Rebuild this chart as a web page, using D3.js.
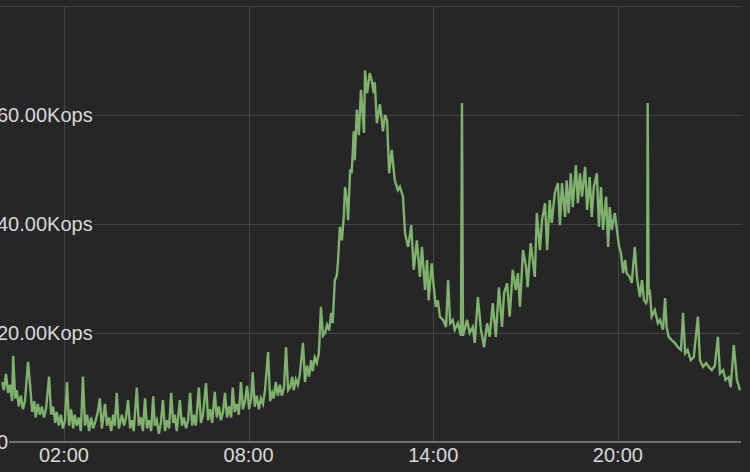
<!DOCTYPE html>
<html>
<head>
<meta charset="utf-8">
<script src="https://cdn.jsdelivr.net/npm/d3@7"></script>
<style>
  html, body { margin: 0; padding: 0; background: #262626; overflow: hidden; }
  svg { display: block; }
</style>
</head>
<body>
<svg id="chart" width="750" height="472"></svg>
<script>
// minutes since 00:00
const minutes = [
  0,3,7,11,15,19,21,25,28,32,
  36,40,44,50,54,58,62,65,69,73,
  77,81,85,91,95,99,103,106,110,114,
  118,122,126,130,134,138,141,145,149,153,
  157,161,165,169,173,177,182,186,190,194,
  200,204,208,212,216,219,223,227,233,237,
  241,245,249,253,256,262,266,270,274,278,
  282,286,290,294,297,301,305,309,313,317,
  321,325,329,333,336,340,346,350,354,358,
  362,366,370,373,377,383,387,391,397,401,
  405,409,414,418,422,426,430,434,438,442,
  446,449,453,457,461,465,469,473,477,481,
  485,488,492,496,500,504,508,512,518,522,
  526,529,533,537,541,545,549,553,557,561,
  565,568,572,576,580,586,590,594,598,602,
  605,609,613,617,621,625,629,633,637,641,
  644,648,652,654,658,662,666,668,672,674,
  678,681,685,687,691,695,699,701,705,707,
  711,714,716,720,724,726,730,736,742,746,
  750,754,759,765,771,775,781,785,791,795,
  797,802,808,814,818,824,828,831,837,841,
  845,849,853,859,865,869,873,878,882,888,
  894,896,898,906,911,917,921,927,933,939,
  945,950,956,962,968,974,978,984,989,995,
  1001,1005,1009,1015,1021,1024,1030,1034,1038,1042,
  1048,1052,1058,1062,1067,1071,1077,1083,1087,1091,
  1097,1100,1104,1108,1112,1118,1122,1126,1130,1136,
  1140,1145,1149,1153,1159,1163,1167,1171,1177,1181,
  1184,1188,1194,1198,1202,1206,1210,1214,1217,1223,
  1227,1233,1237,1243,1247,1251,1255,1257,1258,1260,
  1262,1266,1272,1278,1282,1288,1292,1295,1299,1305,
  1311,1317,1323,1327,1331,1336,1342,1348,1356,1360,
  1366,1372,1377,1383,1389,1395,1399,1405,1410,1416,
  1420,1426,1432,1438
];
// ops, in thousands (Kops)
const kops = [
  11,9.5,12.5,9,10.5,7.5,15.8,8,9.5,6.5,
  8.5,6,7.5,14.7,10.5,5.5,7.5,4.5,7,5,
  6.5,4.5,6,12,5,6.5,3.5,5.5,3,5,
  2.5,4,11,3,6,2.5,5,3,4.5,2,
  12,3,5,2,4.5,2.5,4,5.5,8,2.5,
  7,3,4.5,2,5,3,9,2.5,5,3,
  4.5,7.7,2.5,4,2,10,3,4.5,2,8,
  2.5,4,2,8.4,3,4,1.5,3.5,7.7,2,
  4,2.5,9,3.5,5,2,7.7,3,4.5,2.5,
  4,9,3,5,3,10,3.5,5,10.8,4,
  6,3.5,9.2,4.5,6.5,4,5.5,9,4.5,6.5,
  4.5,10,5.5,7,5,11,6,7.5,10.3,6,
  8,12.8,6.5,8.5,6,8,7,9.5,16.5,7.5,
  9,8,11,8.5,10.5,8.5,10,17.4,9.5,10,
  12,9.5,11.5,10.5,12.5,18.2,11,14,12,15,
  13,15.5,14.5,16.3,24.8,19.5,20,21.5,20.5,23.7,
  21.8,29.7,30.5,32.8,39.5,37,42,46.8,44,40.7,
  50,49.3,57,51.7,61,56.3,64.6,62,56.7,68.2,
  64,66,67.7,66.4,64,66,58.5,62,57,60,
  59,49.3,53.6,48,46.2,46.8,45,38.3,35.8,38.3,
  39.8,31.6,37,30.3,35.8,27.9,33.4,26,32.8,28.4,
  24.8,26,23,22.4,21.1,29.7,21.8,22.4,20.6,21.8,
  19.5,62.2,19.5,22.4,20,21.1,18.2,26.6,20.6,17.4,
  21.8,19.3,25.5,19.3,28.4,21.1,27.3,29.1,23,31.6,
  27.9,31,24.8,35.2,32.1,28.4,36.5,33.4,30.3,42,
  35.2,40.7,43.8,35.2,44.4,40.2,45.7,47.5,39.8,47.5,
  41.3,48,42,49.3,43.1,50.8,43.8,49.3,45,50.5,
  42.6,48.6,41.3,46.8,49.3,39.5,46.8,38.9,45,35.8,
  43.1,38.9,42,39,36,34.7,31,33.4,31,30.3,
  29.2,35.8,30.3,26.6,29.7,26,25.5,26,62.2,27,
  27.9,23,24.2,21.8,22.4,20.6,26.4,21.1,19.3,18.7,
  18.2,17.4,16.9,23.7,16.3,16.9,15,15.6,23,15,
  13.8,14.5,13.8,13.2,14,19.3,12.6,13.2,11.4,11.9,
  10.1,17.8,11.4,9.5
];
const xTickHours = [2, 8, 14, 20];
const xTickLabels = ["02:00", "08:00", "14:00", "20:00"];
const yTickValues = [0, 20, 40, 60];
const yTickLabels = ["0", "20.00Kops", "40.00Kops", "60.00Kops"];
const yGridValues = [20, 40, 60, 80];
const watermarkText = "E0890940";

const BG = "#262626";
const svg = d3.select("#chart");
const W = 750, H = 472;
const plot = { left: 2.4, right: 741, top: 6, bottom: 442 };

const day0 = new Date(2000, 0, 1, 0, 0);
const t = m => new Date(day0.getTime() + m * 60000);

const x = d3.scaleTime().domain([t(0), t(1440)]).range([plot.left, plot.right]);
const y = d3.scaleLinear().domain([0, 80]).range([plot.bottom, plot.top]);

svg.append("rect").attr("width", W).attr("height", H).attr("fill", BG);

// watermark
const wm = svg.append("g");
[[185, 112], [665, 102], [185, 347], [665, 337]].forEach(([wx, wy]) => {
  wm.append("text")
    .attr("transform", `translate(${wx},${wy}) rotate(-27)`)
    .attr("font-family", "Liberation Sans, Arial, sans-serif")
    .attr("font-size", 30)
    .attr("font-weight", "bold")
    .attr("fill", "#ffffff")
    .attr("fill-opacity", 0.025)
    .text(watermarkText);
});

// horizontal grid
svg.append("g")
  .selectAll("line").data(yGridValues).join("line")
  .attr("x1", 0).attr("x2", plot.right)
  .attr("y1", d => Math.round(y(d)) + 0.5).attr("y2", d => Math.round(y(d)) + 0.5)
  .attr("stroke", "#454545").attr("stroke-width", 1);

// vertical grid
svg.append("g")
  .selectAll("line").data(xTickHours).join("line")
  .attr("x1", d => Math.round(x(t(d * 60))) + 0.5).attr("x2", d => Math.round(x(t(d * 60))) + 0.5)
  .attr("y1", plot.top).attr("y2", plot.bottom)
  .attr("stroke", "#454545").attr("stroke-width", 1);

// bottom axis line
svg.append("line")
  .attr("x1", 0).attr("x2", plot.right)
  .attr("y1", plot.bottom).attr("y2", plot.bottom)
  .attr("stroke", "#8a8a8a").attr("stroke-width", 1.5);

// series
const data = minutes.map((m, i) => ({ t: t(m), v: kops[i] }));
const line = d3.line().x(d => x(d.t)).y(d => y(d.v));
svg.append("path")
  .datum(data)
  .attr("d", line)
  .attr("fill", "none")
  .attr("stroke", "#7eb26d")
  .attr("stroke-width", 2.4)
  .attr("stroke-linejoin", "miter")
  .attr("stroke-miterlimit", 4);

// y labels with background to interrupt grid lines
const yl = svg.append("g");
yTickValues.forEach((v, i) => {
  const g = yl.append("g");
  const bgRect = g.append("rect").attr("fill", BG);
  const txt = g.append("text")
    .attr("x", -3)
    .attr("y", y(v) + 6.5)
    .attr("font-family", "Liberation Sans, Arial, sans-serif")
    .attr("font-size", 20)
    .attr("fill", "#d8d9da")
    .text(yTickLabels[i]);
  const bb = txt.node().getBBox();
  bgRect.attr("x", bb.x).attr("y", y(v) - 3).attr("width", bb.width + 1).attr("height", 6);
});

// x labels
svg.append("g")
  .selectAll("text").data(xTickHours).join("text")
  .attr("x", d => x(t(d * 60)))
  .attr("y", 462)
  .attr("text-anchor", "middle")
  .attr("font-family", "Liberation Sans, Arial, sans-serif")
  .attr("font-size", 20)
  .attr("fill", "#d8d9da")
  .text((d, i) => xTickLabels[i]);
</script>
</body>
</html>
